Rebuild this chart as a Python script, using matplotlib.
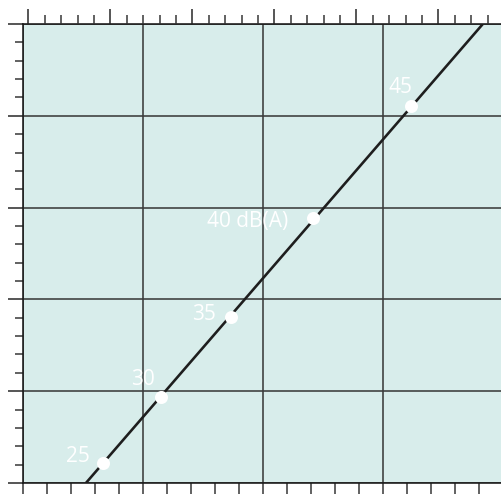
import matplotlib
matplotlib.use("Agg")
import matplotlib.pyplot as plt
from matplotlib.ticker import MultipleLocator

# Noise level curve: labelled points (dB(A)) on a straight reference line
levels = ["25", "30", "35", "40 dB(A)", "45"]
point_x = [0.667, 1.151, 1.735, 2.419, 3.236]
point_y = [0.218, 0.937, 1.808, 2.887, 4.107]

# Reference line end points (runs across the whole panel)
line_x = [0.525, 3.836]
line_y = [0.0, 5.0]

# Label offsets from each point, in pixels (dx, dy)
label_offsets = [(-13, 1), (-6, 12), (-15, -3), (-25, -9), (2, 13)]

DPI = 100
fig = plt.figure(figsize=(5.01, 4.94), dpi=DPI)
W, H = 501, 494
left_px, right_px, top_px, bottom_px = 23, 502.5, 24, 483
ax = fig.add_axes([left_px / W, (H - bottom_px) / H,
                   (right_px - left_px) / W, (bottom_px - top_px) / H])

bg = "#d8edeb"
ax.set_facecolor(bg)
ax.set_xlim(0, 4)
ax.set_ylim(0, 5)

ax.xaxis.set_major_locator(MultipleLocator(1))
ax.xaxis.set_minor_locator(MultipleLocator(0.2))
ax.yaxis.set_major_locator(MultipleLocator(1))
ax.yaxis.set_minor_locator(MultipleLocator(0.2))
ax.set_xticklabels([])
ax.set_yticklabels([])

pt = 72.0 / DPI
ax.tick_params(axis="x", which="both", bottom=True, top=False, direction="out",
               length=12 * pt, width=1.5 * pt, color="#333333")
ax.tick_params(axis="y", which="major", left=True, right=False, direction="out",
               length=15 * pt, width=1.5 * pt, color="#222222")
ax.tick_params(axis="y", which="minor", left=True, right=False, direction="out",
               length=8 * pt, width=1.5 * pt, color="#333333")

ax.grid(which="major", color="#3c3c3c", linewidth=1.6 * pt)
ax.set_axisbelow(True)

for side in ("left", "top", "bottom"):
    ax.spines[side].set_color("#1a1a1a")
    ax.spines[side].set_linewidth(1.6 * pt)
ax.spines["right"].set_visible(False)

# Secondary scale along the top edge
top = ax.twiny()
scale = 82.0  # px per major unit
t0 = 28.3
top.set_xlim((left_px - t0) / scale, (right_px - t0) / scale)
top.xaxis.set_major_locator(MultipleLocator(1))
top.xaxis.set_minor_locator(MultipleLocator(0.2))
top.set_xticklabels([])
top.tick_params(axis="x", which="major", top=True, bottom=False, direction="out",
                length=15 * pt, width=1.5 * pt, color="#222222")
top.tick_params(axis="x", which="minor", top=True, bottom=False, direction="out",
                length=9 * pt, width=1.5 * pt, color="#333333")
for s in top.spines.values():
    s.set_visible(False)

ax.plot(line_x, line_y, color="#1e1e1e", linewidth=2.6 * pt,
        solid_capstyle="butt", zorder=3, clip_on=True)
ax.plot(point_x, point_y, linestyle="none", marker="o", markersize=13 * pt,
        markerfacecolor="white", markeredgewidth=0, zorder=4)

for lab, x, y, (dx, dy) in zip(levels, point_x, point_y, label_offsets):
    ax.annotate(lab, (x, y), xytext=(dx * pt, dy * pt), textcoords="offset points",
                ha="right", va="baseline", color="white", fontsize=15,
                family=["Open Sans", "DejaVu Sans"], zorder=5)

fig.savefig("out.png", dpi=DPI, facecolor="white")
